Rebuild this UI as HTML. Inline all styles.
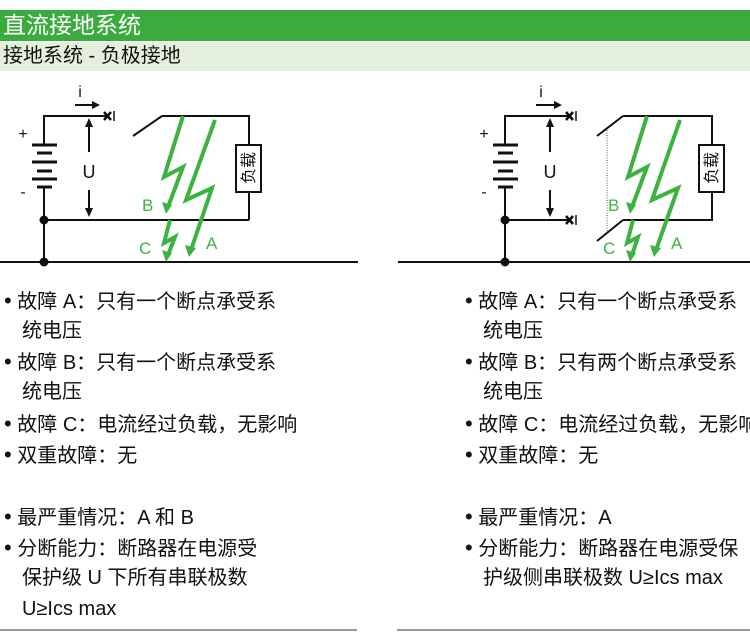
<!DOCTYPE html>
<html><head><meta charset="utf-8"><style>
body{margin:0;width:750px;height:633px;background:#fff;position:relative;overflow:hidden;font-family:"Liberation Sans","Noto Sans CJK SC",sans-serif;}
.h1{position:absolute;left:0;top:10px;width:750px;height:31px;background:#3cab3f;color:#fff;font-size:23px;line-height:31px;padding-left:3px;box-sizing:border-box;}
.h2{position:absolute;left:0;top:42px;width:750px;height:29px;background:#e4f0dd;color:#111;font-size:20px;line-height:29px;padding-left:3px;box-sizing:border-box;}
.t{position:absolute;font-size:20px;line-height:24px;color:#111;white-space:nowrap;}
.t b{font-weight:normal;font-size:22px;}
svg{position:absolute;left:0;top:0;}
</style></head><body>
<div class="h1">直流接地系统</div>
<div class="h2">接地系统 - 负极接地</div>
<svg width="750" height="633" font-family="Liberation Sans, Noto Sans CJK SC, sans-serif">
<g stroke="#111" stroke-width="2" fill="none">
<polyline points="108,116 44,116 44,145"/>
<line x1="44" y1="187" x2="44" y2="262"/>
<line x1="44" y1="220" x2="249" y2="220"/>
<line x1="0" y1="262" x2="358" y2="262"/>
<line x1="133" y1="136" x2="162" y2="116"/>
<polyline points="162,116 249,116 249,220"/>
<line x1="75" y1="105" x2="98" y2="105"/>
<line x1="89" y1="124" x2="89" y2="152"/><line x1="89" y1="190" x2="89" y2="214"/>
<polyline points="570,116 505,116 505,145"/>
<line x1="505" y1="187" x2="505" y2="262"/>
<line x1="505" y1="220" x2="570" y2="220"/>
<line x1="398" y1="262" x2="750" y2="262"/>
<line x1="597" y1="136" x2="623" y2="116"/>
<polyline points="623,116 712,116 712,220 623,220"/>
<line x1="597" y1="241" x2="623" y2="220"/>
<line x1="536" y1="105" x2="560" y2="105"/>
<line x1="550" y1="124" x2="550" y2="152"/><line x1="550" y1="190" x2="550" y2="214"/>
</g>
<line x1="607" y1="130" x2="607" y2="232" stroke="#555" stroke-width="1" stroke-dasharray="1,1.5"/>
<g stroke="#111" stroke-width="2" fill="#fff">
<rect x="236" y="145" width="25" height="47"/><rect x="699" y="145" width="25" height="47"/>
</g>
<g stroke="#111" stroke-width="3">
<line x1="32" y1="145" x2="57" y2="145"/><line x1="37" y1="153" x2="52" y2="153"/>
<line x1="32" y1="162" x2="57" y2="162"/><line x1="37" y1="171" x2="52" y2="171"/>
<line x1="32" y1="179" x2="57" y2="179"/><line x1="37" y1="187" x2="52" y2="187"/>
<line x1="493" y1="145" x2="518" y2="145"/><line x1="498" y1="153" x2="513" y2="153"/>
<line x1="493" y1="162" x2="518" y2="162"/><line x1="498" y1="171" x2="513" y2="171"/>
<line x1="493" y1="179" x2="518" y2="179"/><line x1="498" y1="187" x2="513" y2="187"/>
</g>
<g fill="#111">
<circle cx="44" cy="220" r="4.5"/><circle cx="44" cy="262" r="4.5"/>
<circle cx="505" cy="220" r="4.5"/><circle cx="505" cy="262" r="4.5"/>
<polygon points="100,105 92,101 92,109"/><polygon points="562,105 554,101 554,109"/>
<polygon points="89,118 85,127 93,127"/><polygon points="89,217 85,208 93,208"/>
<polygon points="550,118 546,127 554,127"/><polygon points="550,217 546,208 554,208"/>
</g>
<g stroke="#111" stroke-width="2.5">
<line x1="104" y1="112" x2="111" y2="120"/><line x1="111" y1="112" x2="104" y2="120"/><line x1="114" y1="111" x2="114" y2="121" stroke-width="1.5"/>
<line x1="566" y1="112" x2="573" y2="120"/><line x1="573" y1="112" x2="566" y2="120"/><line x1="576" y1="111" x2="576" y2="121" stroke-width="1.5"/>
<line x1="566" y1="216" x2="573" y2="224"/><line x1="573" y1="216" x2="566" y2="224"/><line x1="576" y1="215" x2="576" y2="225" stroke-width="1.5"/>
</g>
<g font-size="16" fill="#111" text-anchor="middle">
<text x="80" y="97">i</text><text x="541" y="97">i</text>
<text x="89" y="178" font-size="18">U</text><text x="550" y="178" font-size="18">U</text>
<text x="23" y="139">+</text><text x="23" y="197">-</text>
<text x="484" y="139">+</text><text x="484" y="197">-</text>
</g>
<g font-size="16" fill="#111">
<text transform="translate(254,168) rotate(-90)" text-anchor="middle">负载</text>
<text transform="translate(717,168) rotate(-90)" text-anchor="middle">负载</text>
</g>
<g stroke="#3cb33f" stroke-width="4" fill="none">
<polyline points="183,116 164,177 183,167 168,207"/>
<polyline points="215,120 186,200 212,188 191,250"/>
<polyline points="170,220 164,243 175,237 168,255"/>
<polyline points="647,116 628,177 647,167 632,207"/>
<polyline points="680,120 652,200 678,188 656,250"/>
<polyline points="633,220 627,243 638,237 632,255"/>
</g>
<g fill="#3cb33f">
<polygon points="166,214 162,202 172,205"/><polygon points="189,257 185,245 196,248"/><polygon points="166,262 162,250 172,253"/>
<polygon points="630,214 626,202 636,205"/><polygon points="654,257 650,245 661,248"/><polygon points="630,262 626,250 636,253"/>
<g font-size="17"><text x="142" y="211">B</text><text x="139" y="254">C</text><text x="206" y="249">A</text>
<text x="608" y="211">B</text><text x="603" y="254">C</text><text x="671" y="249">A</text></g>
</g>
<line x1="0" y1="630" x2="357" y2="630" stroke="#777" stroke-width="1.5"/>
<line x1="397" y1="630" x2="750" y2="630" stroke="#777" stroke-width="1.5"/>
</svg>
<div class="t" style="left:4px;top:289px"><b>•</b> 故障 A：只有一个断点承受系</div>
<div class="t" style="left:22px;top:319px">统电压</div>
<div class="t" style="left:4px;top:350px"><b>•</b> 故障 B：只有一个断点承受系</div>
<div class="t" style="left:22px;top:380px">统电压</div>
<div class="t" style="left:4px;top:412px"><b>•</b> 故障 C：电流经过负载，无影响</div>
<div class="t" style="left:4px;top:443px"><b>•</b> 双重故障：无</div>
<div class="t" style="left:4px;top:505px"><b>•</b> 最严重情况：A 和 B</div>
<div class="t" style="left:4px;top:536px"><b>•</b> 分断能力：断路器在电源受</div>
<div class="t" style="left:22px;top:566px">保护级 U 下所有串联极数</div>
<div class="t" style="left:22px;top:597px">U≥Ics max</div>
<div class="t" style="left:465px;top:289px"><b>•</b> 故障 A：只有一个断点承受系</div>
<div class="t" style="left:483px;top:319px">统电压</div>
<div class="t" style="left:465px;top:350px"><b>•</b> 故障 B：只有两个断点承受系</div>
<div class="t" style="left:483px;top:380px">统电压</div>
<div class="t" style="left:465px;top:412px"><b>•</b> 故障 C：电流经过负载，无影响</div>
<div class="t" style="left:465px;top:443px"><b>•</b> 双重故障：无</div>
<div class="t" style="left:465px;top:505px"><b>•</b> 最严重情况：A</div>
<div class="t" style="left:465px;top:536px"><b>•</b> 分断能力：断路器在电源受保</div>
<div class="t" style="left:483px;top:566px">护级侧串联极数 U≥Ics max</div>
</body></html>
